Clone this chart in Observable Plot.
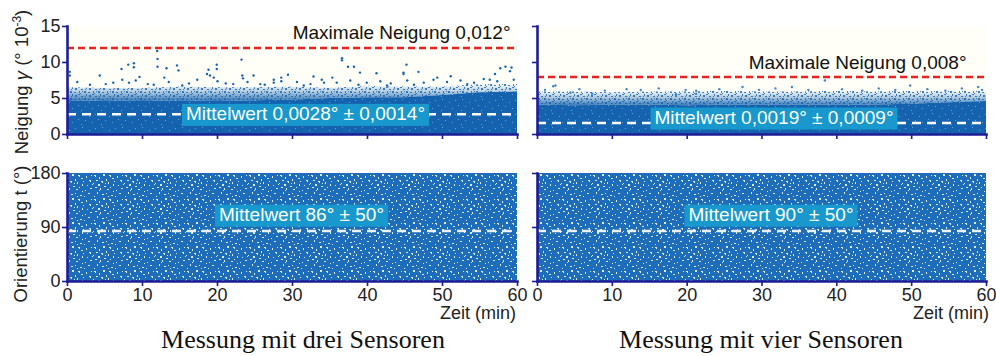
<!DOCTYPE html>
<html><head><meta charset="utf-8">
<script src="https://cdn.jsdelivr.net/npm/d3@7"></script>
<script src="https://cdn.jsdelivr.net/npm/@observablehq/plot@0.6"></script>
<style>
body{margin:0;background:#fff;}
#wrap{position:relative;width:996px;height:356px;font-family:"Liberation Sans",Arial,sans-serif;overflow:hidden;background:#fff}
.ylab{position:absolute;white-space:nowrap;font-size:18.5px;color:#222;transform:translate(-50%,-50%) rotate(-90deg)}
.ylab sup{font-size:12px;vertical-align:7px}
.xlab{position:absolute;white-space:nowrap;font-size:18px;color:#222;transform:translateX(-100%)}
.cap{position:absolute;white-space:nowrap;font-family:"Liberation Serif","Times New Roman",serif;font-size:26px;color:#111;transform:translate(-50%,-50%)}
</style></head><body><div id="wrap"></div>
<script>
// ---------- data ----------
const timeGrid = [0, 5, 10, 15, 20, 25, 30, 35, 40, 45, 50, 55, 60];
// Neigung (10^-3 °): upper edge of the solid point cloud and of the speckled fringe
const solidTopL = [4.6, 4.7, 4.6, 4.7, 4.6, 4.7, 4.8, 5.0, 5.1, 5.1, 5.4, 5.8, 5.9];
const speckTopL = [6.5, 6.4, 6.4, 6.6, 6.5, 6.5, 6.6, 6.4, 6.7, 6.6, 6.6, 6.9, 7.0];
const solidTopR = [4.1, 4.0, 4.1, 4.1, 4.0, 4.1, 4.1, 4.1, 4.1, 4.1, 4.2, 4.4, 4.6];
const speckTopR = [5.9, 5.9, 5.8, 5.9, 5.9, 6.0, 5.9, 5.9, 6.0, 5.9, 6.0, 6.1, 6.1];
// isolated high points [t (min), Neigung]
const outliersL = [[0.3,8.7],[0.3,8.2],[4.3,8.2],[6.1,7.2],[7.2,9.1],[8.1,9.7],[8.85,9.9],[8.85,9.35],
  [9.6,8.0],[11.96,11.6],[12.0,10.5],[12.0,9.4],[12.9,7.9],[13.2,9.2],[14.6,9.6],[14.8,8.9],
  [18.6,8.4],[18.8,9.0],[19.0,8.2],[19.5,7.9],[19.9,9.7],[19.9,9.1],[22.1,7.0],[23.2,10.4],
  [23.3,8.2],[23.4,7.8],[24.8,8.2],[27.5,7.6],[28.5,7.9],[28.5,7.4],[29.4,8.3],[32.8,8.05],
  [34.2,7.2],[35.3,7.9],[36.6,10.6],[36.6,10.3],[37.4,9.4],[38.2,9.4],[39.0,8.6],[41.2,8.5],
  [44.8,8.6],[44.8,8.4],[45.2,9.7],[46.8,8.7],[49.3,7.9],[51.1,8.1],[56.3,7.6],[57.0,8.4],
  [57.7,9.2],[58.4,9.4],[59.2,9.3],[59.0,8.8],
  [1.3,7.3],[5.1,7.0],[7.3,7.6],[8.2,7.2],[9.1,7.5],[10.7,7.0],[13.5,7.3],[16.2,7.1],[17.3,7.6],
  [20.0,7.4],[21.1,7.1],[24.0,7.3],[25.7,7.0],[27.5,7.2],[30.6,7.3],[32.4,7.0],[33.9,7.6],[35.9,7.2],
  [37.7,7.5],[39.9,7.2],[41.7,7.4],[43.1,7.1],[45.3,7.5],[47.5,7.2],[48.8,7.6],[50.6,7.3],[52.4,7.5],
  [54.2,7.2],[55.5,7.7],[57.3,7.4],[59.5,7.6],[3.0,6.9],[11.5,6.9],[15.3,6.8],[26.3,6.9],[31.5,6.8],
  [38.8,6.9],[42.6,6.8],[46.2,6.9],[53.3,7.0]];
const outliersR = [[2.1,6.7],[2.4,6.8],[4.4,5.8],[7.3,5.65],[11.9,6.3],[18.5,5.6],[21.2,5.65],
  [21.2,6.1],[27.4,6.6],[34.0,6.6],[38.4,7.5],[43.4,6.1],[49.8,6.8],[54.5,6.1],[58.9,6.6],
  [1.0,6.2],[5.6,6.3],[9.0,6.1],[13.8,6.2],[16.2,6.4],[19.8,6.2],[24.3,6.3],[29.6,6.2],[31.8,6.4],
  [36.2,6.2],[40.7,6.3],[45.6,6.4],[47.8,6.2],[52.1,6.3],[56.7,6.4],[59.4,6.2]];
const maxNeigung = [12, 8];              // red dashed limits (10^-3 °)
const meanNeigung = [2.8, 1.6];          // white dashed mean lines as drawn
const meanOrient = [84, 84];             // white dashed mean lines as drawn (°)
const orientRange = [0, 180];            // orientation cloud spans the full range
const maxLabels = ["Maximale Neigung 0,012°", "Maximale Neigung 0,008°"];
const neigMeanLabels = ["Mittelwert 0,0028° ± 0,0014°", "Mittelwert 0,0019° ± 0,0009°"];
const orientMeanLabels = ["Mittelwert 86° ± 50°", "Mittelwert 90° ± 50°"];
const xTicks = [0, 10, 20, 30, 40, 50, 60];
const neigTicks = [0, 5, 10, 15];
const orientTicks = [0, 90, 180];
const captions = ["Messung mit drei Sensoren", "Messung mit vier Sensoren"];

// ---------- styling ----------
const NAVY = "#1c1c96", BLUE = "#1563ae", BLUE2 = "#1d6dbb", RED = "#e8231f", TEAL = "#1898cc";
const FONT = "'Liberation Sans', Arial, sans-serif";
const wrap = document.getElementById("wrap");

const envL = timeGrid.map((t, i) => ({t, solid: solidTopL[i], speck: speckTopL[i]}));
const envR = timeGrid.map((t, i) => ({t, solid: solidTopR[i], speck: speckTopR[i]}));
const orientEnv = timeGrid.map(t => ({t, lo: orientRange[0], hi: orientRange[1]}));

function axes(yTicks, showY, showX) {
  return [
    Plot.axisY(yTicks, {tickSize: 5, tickPadding: 2, stroke: NAVY, strokeWidth: 1.6, fill: "#222", label: null,
      fontSize: 18, tickFormat: showY ? d => String(d) : () => ""}),
    Plot.axisX(xTicks, {tickSize: 5, tickPadding: 2, stroke: NAVY, strokeWidth: 1.6, fill: "#222", label: null,
      fontSize: 18, tickFormat: showX ? d => String(d) : () => ""}),
    Plot.frame({anchor: "left", stroke: NAVY, strokeWidth: 2.6}),
    Plot.frame({anchor: "bottom", stroke: NAVY, strokeWidth: 2.6})
  ];
}

function place(svg, left, top) {
  svg.style.position = "absolute";
  svg.style.left = left + "px";
  svg.style.top = top + "px";
  svg.style.overflow = "visible";
  wrap.append(svg);
}

const geom = [
  {left: 0, width: 530, mL: 67, mR: 13},
  {left: 530, width: 466, mL: 7, mR: 10}
];

[0, 1].forEach(k => {
  const g = geom[k];
  const env = k === 0 ? envL : envR;
  const outs = k === 0 ? outliersL : outliersR;
  // top: Neigung
  const top = Plot.plot({
    width: g.width, height: 150, marginLeft: g.mL, marginRight: g.mR, marginTop: 26, marginBottom: 16,
    x: {domain: [0, 60]}, y: {domain: [0, 15]},
    style: {fontSize: "18px", fontFamily: FONT, background: "transparent", overflow: "visible"},
    marks: [
      Plot.frame({fill: "#fffef7", stroke: "none"}),
      Plot.areaY(env, {x: "t", y1: "solid", y2: "speck", fill: "url(#dotsTop)"}),
      Plot.areaY(env, {x: "t", y1: "solid", y2: "speck", fill: "url(#gradTop)"}),
      Plot.areaY(env, {x: "t", y1: 0, y2: "solid", fill: "url(#speckTop)"}),
      Plot.dot(outs, {x: d => d[0], y: d => d[1], r: 1.2, fill: k === 0 ? BLUE : "#3f86c8", stroke: "none"}),
      Plot.ruleY([maxNeigung[k]], {stroke: RED, strokeWidth: 2.5, strokeDasharray: "7,4"}),
      Plot.ruleY([meanNeigung[k]], {stroke: "white", strokeWidth: 2.5, strokeDasharray: "9,6"}),
      Plot.text([maxLabels[k]], {text: d => d, frameAnchor: "right", y: () => maxNeigung[k],
        dx: k === 0 ? -7 : -20, dy: k === 0 ? -15 : -14, textAnchor: "end", fontSize: 19, fill: "#111"}),
      Plot.text([neigMeanLabels[k]], {text: d => d, x: () => 30, y: () => meanNeigung[k],
        dx: k === 0 ? 13 : 12, dy: k === 0 ? 0 : -5, fontSize: 19, fill: "white"}),
      ...axes(neigTicks, k === 0, false)
    ]
  });
  place(top, g.left, 0);
  // bottom: Orientierung
  const bot = Plot.plot({
    width: g.width, height: 170, marginLeft: g.mL, marginRight: g.mR, marginTop: 23, marginBottom: 39,
    x: {domain: [0, 60]}, y: {domain: [0, 180]},
    style: {fontSize: "18px", fontFamily: FONT, background: "transparent", overflow: "visible"},
    marks: [
      Plot.areaY(orientEnv, {x: "t", y1: "lo", y2: "hi", fill: "url(#speckBot)"}),
      Plot.ruleY([meanOrient[k]], {stroke: "white", strokeWidth: 2.5, strokeDasharray: "9,6", strokeOpacity: 0.9}),
      Plot.text([orientMeanLabels[k]], {text: d => d, x: () => 30, y: () => meanOrient[k],
        dx: 9, dy: -16, fontSize: 19, fill: "white"}),
      ...axes(orientTicks, k === 0, true)
    ]
  });
  place(bot, g.left, 150);
});

// gradient & speckle patterns (styling only)
const NS = "http://www.w3.org/2000/svg";
const defsSvg = document.createElementNS(NS, "svg");
defsSvg.setAttribute("width", 0); defsSvg.setAttribute("height", 0);
defsSvg.style.position = "absolute";
const speckTopRects = [[2,1,1,1],[9,4,1,1],[15,2,1,1],[5,8,1,1],[12,10,1,1],[18,7,1,1],[1,12,1,1]];
const dotRects = [[0,0,2,2],[4,1,2,1],[2,3,1,2],[5,4,2,2],[1,5,1,1],[9,0,1,2],[8,3,2,1],[11,5,2,1],[10,2,1,1],[12,0,1,1]];
const speckBotRects = [[1,1,2,1],[2,2,1,1],[6,3,1,2],[10,0,2,2],[3,6,2,1],[8,7,2,1],[9,8,1,1],[13,5,1,2],[0,9,1,1],[5,10,2,2],
  [16,1,2,1],[17,2,1,1],[19,4,2,1],[15,8,1,2],[20,10,1,2],[11,12,2,1],[2,13,2,1],[17,13,1,1],[7,14,1,2],[21,7,1,1],[14,15,2,1],
  [24,2,1,2],[27,6,2,1],[28,7,1,1],[25,11,1,1],[28,14,2,1],[23,16,1,1],[26,19,2,1],[4,18,1,2],[9,20,2,1],[13,19,1,1],[18,21,2,1],
  [22,22,1,1],[1,22,1,1],[29,1,1,1],[12,9,1,1],[20,17,1,1],[30,10,1,1],[6,16,1,1],[15,22,1,1]];
defsSvg.innerHTML = `<defs>
 <linearGradient id="gradTop" x1="0" y1="1" x2="0" y2="0">
  <stop offset="0" stop-color="${BLUE}" stop-opacity="0.85"/>
  <stop offset="0.5" stop-color="${BLUE}" stop-opacity="0.35"/>
  <stop offset="1" stop-color="${BLUE}" stop-opacity="0"/>
 </linearGradient>
 <pattern id="dotsTop" patternUnits="userSpaceOnUse" width="14" height="7">
  ${dotRects.map(r => `<rect x="${r[0]}" y="${r[1]}" width="${r[2]}" height="${r[3]}" fill="${BLUE}" fill-opacity="0.8"/>`).join("")}
 </pattern>
 <pattern id="speckTop" patternUnits="userSpaceOnUse" width="20" height="14">
  <rect width="20" height="14" fill="${BLUE}"/>
  ${speckTopRects.map(r => `<rect x="${r[0]}" y="${r[1]}" width="${r[2]}" height="${r[3]}" fill="#6a9fd3"/>`).join("")}
 </pattern>
 <pattern id="speckBot" patternUnits="userSpaceOnUse" width="31" height="24">
  <rect width="31" height="24" fill="${BLUE2}"/>
  ${speckBotRects.map(r => `<rect x="${r[0]}" y="${r[1]}" width="${r[2]}" height="${r[3]}" fill="#ffffff" fill-opacity="0.85"/>`).join("")}
 </pattern>
</defs>`;
wrap.prepend(defsSvg);

// teal boxes behind the "Mittelwert" labels
wrap.querySelectorAll("text").forEach(t => {
  if (!t.textContent.startsWith("Mittelwert")) return;
  const bb = t.getBBox();
  const r = document.createElementNS(NS, "rect");
  r.setAttribute("x", bb.x - 4); r.setAttribute("y", bb.y + 0.5);
  r.setAttribute("width", bb.width + 8); r.setAttribute("height", bb.height + 1);
  r.setAttribute("fill", TEAL);
  if (t.getAttribute("transform")) r.setAttribute("transform", t.getAttribute("transform"));
  t.parentNode.insertBefore(r, t);
});

// axis titles and captions
function addDiv(cls, html, x, y) {
  const d = document.createElement("div");
  d.className = cls; d.innerHTML = html;
  d.style.left = x + "px"; d.style.top = y + "px";
  wrap.append(d);
}
addDiv("ylab", "Neigung <i>γ</i> (° 10<sup>-3</sup>)", 21, 82);
addDiv("ylab", "Orientierung t (°)", 21, 234);
addDiv("xlab", "Zeit (min)", 516, 303);
addDiv("xlab", "Zeit (min)", 989, 303);
addDiv("cap", captions[0], 303, 340);
addDiv("cap", captions[1], 761, 340);
</script></body></html>
